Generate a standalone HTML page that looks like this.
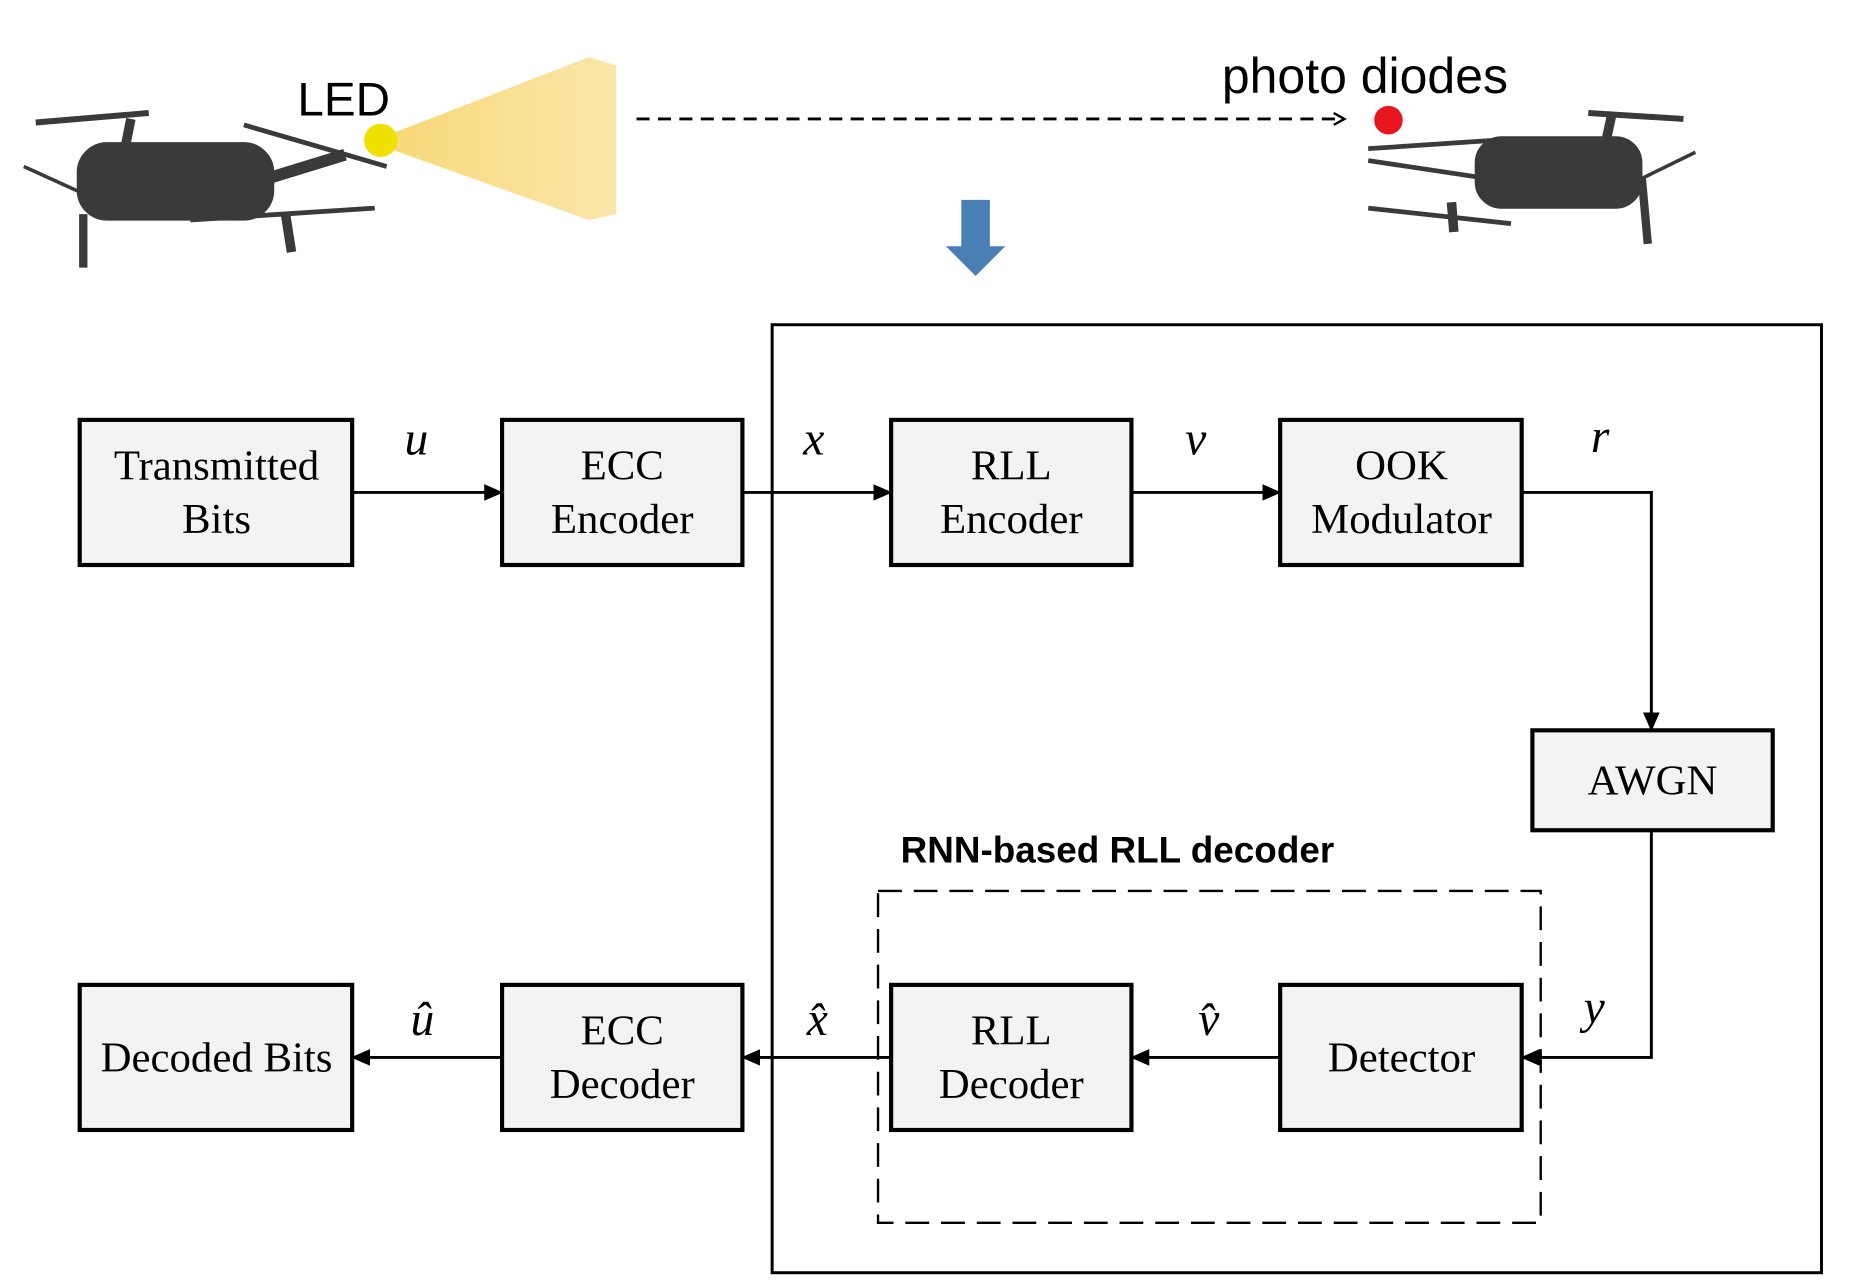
<!DOCTYPE html>
<html><head><style>body{margin:0;background:#fff}svg{display:block}</style></head><body>
<svg width="1856" height="1287" viewBox="0 0 1560 1082" preserveAspectRatio="none" xmlns="http://www.w3.org/2000/svg">
<defs>
<marker id="a" markerWidth="16" markerHeight="14" refX="15" refY="7" orient="auto" markerUnits="userSpaceOnUse"><path d="M0,0 L16,7 L0,14 z" fill="#000"/></marker>
<marker id="o" markerWidth="12" markerHeight="12" refX="10" refY="6" orient="auto" markerUnits="userSpaceOnUse"><path d="M1,1 L10,6 L1,11" fill="none" stroke="#000" stroke-width="2"/></marker>
<linearGradient id="beam" x1="0" x2="1"><stop offset="0" stop-color="#f7d56a" stop-opacity="0.9"/><stop offset="1" stop-color="#f9e3a0" stop-opacity="0.9"/></linearGradient>
</defs>
<g fill="#3a3a3a" stroke="#3a3a3a">
<rect x="65" y="120" width="165" height="65" rx="25"/>
<line x1="30" y1="103" x2="125" y2="95" stroke-width="5"/>
<line x1="20" y1="140" x2="75" y2="165" stroke-width="3"/>
<line x1="205" y1="105" x2="325" y2="140" stroke-width="4"/>
<line x1="160" y1="185" x2="315" y2="175" stroke-width="4"/>
<line x1="70" y1="180" x2="70" y2="225" stroke-width="7"/>
<line x1="240" y1="180" x2="245" y2="212" stroke-width="8"/>
<line x1="225" y1="150" x2="290" y2="130" stroke-width="10"/>
<line x1="110" y1="100" x2="105" y2="125" stroke-width="8"/>
<rect x="1240" y="115" width="140" height="60" rx="22"/>
<line x1="1335" y1="95" x2="1415" y2="100" stroke-width="5"/>
<line x1="1150" y1="125" x2="1255" y2="118" stroke-width="4"/>
<line x1="1150" y1="135" x2="1250" y2="150" stroke-width="4"/>
<line x1="1150" y1="175" x2="1270" y2="188" stroke-width="4"/>
<line x1="1380" y1="150" x2="1425" y2="128" stroke-width="3"/>
<line x1="1380" y1="150" x2="1385" y2="205" stroke-width="7"/>
<line x1="1220" y1="170" x2="1222" y2="195" stroke-width="8"/>
<line x1="1355" y1="95" x2="1350" y2="118" stroke-width="8"/>
</g>
<polygon points="330,112 495,48 518,55 518,180 495,185 330,126" fill="url(#beam)"/>
<circle cx="320" cy="118" r="14" fill="#f0e000"/>
<text x="250" y="97" font-family="Liberation Sans, sans-serif" font-size="40" fill="#000">LED</text>
<text x="1027" y="78" font-family="Liberation Sans, sans-serif" font-size="42" fill="#000">photo diodes</text>
<line x1="535" y1="100" x2="1130" y2="100" stroke="#000" stroke-width="2.5" stroke-dasharray="11,7" marker-end="url(#o)"/>
<circle cx="1167" cy="101" r="12" fill="#e8141e"/>
<polygon points="808,168 832,168 832,207 845,207 820,232 795,207 808,207" fill="#4a7fb5"/>
<rect x="649" y="273" width="882" height="797" fill="none" stroke="#000" stroke-width="2.5"/>
<rect x="738" y="749" width="557" height="279" fill="none" stroke="#000" stroke-width="2" stroke-dasharray="20,10"/>
<g fill="#f2f4f2" stroke="#000" stroke-width="3.5">
<rect x="67" y="353" width="229" height="122"/>
<rect x="422" y="353" width="202" height="122"/>
<rect x="749" y="353" width="202" height="122"/>
<rect x="1076" y="353" width="203" height="122"/>
<rect x="1288" y="614" width="202" height="84"/>
<rect x="67" y="828" width="229" height="122"/>
<rect x="422" y="828" width="202" height="122"/>
<rect x="749" y="828" width="202" height="122"/>
<rect x="1076" y="828" width="203" height="122"/>
</g>
<g stroke="#000" stroke-width="2.5" fill="none">
<line x1="296" y1="414" x2="422" y2="414" marker-end="url(#a)"/>
<line x1="624" y1="414" x2="749" y2="414" marker-end="url(#a)"/>
<line x1="951" y1="414" x2="1076" y2="414" marker-end="url(#a)"/>
<polyline points="1279,414 1388,414 1388,614" marker-end="url(#a)"/>
<polyline points="1388,698 1388,889 1279,889" marker-end="url(#a)"/>
<line x1="1076" y1="889" x2="951" y2="889" marker-end="url(#a)"/>
<line x1="749" y1="889" x2="624" y2="889" marker-end="url(#a)"/>
<line x1="422" y1="889" x2="296" y2="889" marker-end="url(#a)"/>
</g>
<g font-family="Liberation Serif, serif" font-size="36" text-anchor="middle" fill="#000">
<text x="182" y="403">Transmitted</text><text x="182" y="448">Bits</text>
<text x="523" y="403">ECC</text><text x="523" y="448">Encoder</text>
<text x="850" y="403">RLL</text><text x="850" y="448">Encoder</text>
<text x="1178" y="403">OOK</text><text x="1178" y="448">Modulator</text>
<text x="1389" y="668">AWGN</text>
<text x="182" y="901">Decoded Bits</text>
<text x="523" y="878">ECC</text><text x="523" y="923">Decoder</text>
<text x="850" y="878">RLL</text><text x="850" y="923">Decoder</text>
<text x="1178" y="901">Detector</text>
</g>
<g font-family="Liberation Serif, serif" font-size="40" font-style="italic" text-anchor="middle" fill="#000">
<text x="350" y="382">u</text><text x="684" y="382">x</text><text x="1005" y="382">v</text><text x="1345" y="380">r</text>
<text x="1340" y="860">y</text>
<text x="355" y="870">û</text><text x="687" y="870">x̂</text><text x="1016" y="870">v̂</text>
</g>
<text x="757" y="725" font-family="Liberation Sans, sans-serif" font-size="31" font-weight="bold" fill="#000">RNN-based RLL decoder</text>
</svg>
</body></html>
